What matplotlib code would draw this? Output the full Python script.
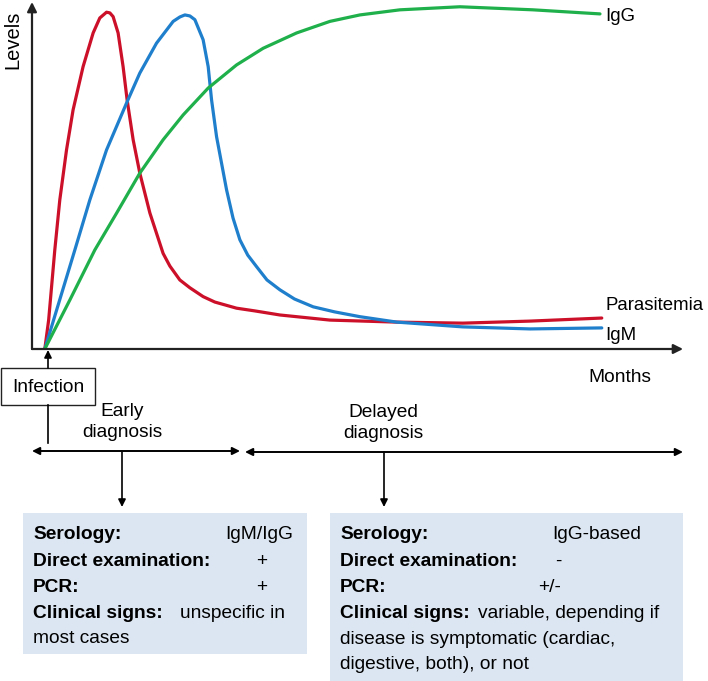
import matplotlib
matplotlib.use("Agg")
from matplotlib import pyplot as plt
from matplotlib.patches import Rectangle

plt.rcParams['font.family'] = ['Liberation Sans', 'DejaVu Sans']

# curve values (x in months-ish units, y in level %)
red_x = [0, 0.06, 0.156, 0.234, 0.339, 0.442, 0.598, 0.755, 0.859, 0.964, 1.016, 1.067, 1.145,
         1.223, 1.286, 1.38, 1.484, 1.641, 1.848, 1.953, 2.109, 2.266, 2.473, 2.656, 2.995,
         3.28, 3.672, 4.453, 5.5, 6.53, 7.58, 8.7]
red_y = [0, 8.5, 29.1, 43.8, 58.5, 70.3, 83.0, 92.9, 97.3, 99.0, 98.8, 97.7, 92.9,
         83.0, 73.2, 61.5, 51.7, 40.0, 28.1, 24.4, 20.3, 18.0, 15.4, 13.8, 12.0,
         11.2, 10.0, 8.5, 7.9, 7.6, 8.2, 9.1]

blue_x = [0, 0.469, 0.703, 0.964, 1.277, 1.484, 1.745, 2.005, 2.11, 2.188, 2.266, 2.344, 2.473,
          2.552, 2.605, 2.683, 2.839, 2.94, 3.047, 3.17, 3.308, 3.47, 3.672, 3.9, 4.192, 4.53,
          4.922, 5.5, 6.53, 7.58, 8.7]
blue_y = [0, 29.1, 43.8, 58.5, 72.3, 81.1, 89.9, 96.3, 97.6, 98.2, 97.9, 96.8, 90.9,
          83.0, 73.2, 62.4, 46.8, 38.5, 32.1, 27.6, 24.2, 20.3, 17.4, 14.7, 12.4, 10.9,
          9.5, 7.9, 6.5, 5.9, 6.2]

green_x = [0, 0.391, 0.781, 1.12, 1.484, 1.848, 2.161, 2.552, 2.995, 3.411, 3.933, 4.453,
           4.922, 5.547, 6.484, 7.625, 8.672]
green_y = [0, 14.4, 29.1, 39.9, 51.7, 61.5, 68.8, 76.7, 83.5, 88.4, 92.9, 96.3,
           98.2, 99.7, 100.6, 99.7, 98.5]

series = [("Parasitemia", red_x, red_y, "#cc1029", 12.9),
          ("IgM", blue_x, blue_y, "#1f7fcc", 4.1),
          ("IgG", green_x, green_y, "#1fb04b", 97.6)]

early_rows = [("Serology:", "IgM/IgG"), ("Direct examination:", "+"), ("PCR:", "+")]
late_rows = [("Serology:", "IgG-based"), ("Direct examination:", "-"), ("PCR:", "+/-")]

FS = 13.8
BOXC = "#dce6f2"

fig = plt.figure(figsize=(7.08, 6.81), dpi=100)

# overlay in pixel coordinates for the diagram parts
ov = fig.add_axes([0, 0, 1, 1])
ov.set_xlim(0, 708)
ov.set_ylim(681, 0)
ov.axis("off")

# the chart itself
ax = fig.add_axes([32 / 708, (681 - 349) / 681, 653 / 708, 347 / 681])
ax.set_xlim(-0.2, 10)
ax.set_ylim(0, 102)
ax.axis("off")
for name, xs, ys, col, ly in series:
    ax.plot(xs, ys, color=col, lw=2.3, solid_capstyle="round", solid_joinstyle="round")
    ax.text(8.76, ly, name, fontsize=13.4, va="center", ha="left")

arr = dict(arrowstyle="-|>", color="#222222", lw=1.6, mutation_scale=14, shrinkA=0, shrinkB=0)
ax.annotate("", xy=(0.997, 0), xytext=(0, 0), xycoords="axes fraction", arrowprops=arr)
ax.annotate("", xy=(0, 1), xytext=(0, 0), xycoords="axes fraction", arrowprops=arr)

ov.text(13, 40, "Levels", rotation=90, fontsize=14.5, ha="center", va="center")
ov.text(620, 378, "Months", fontsize=FS, ha="center", va="center")

# infection marker
ov.add_patch(Rectangle((1, 368), 94, 37, facecolor="white", edgecolor="#222222", lw=1))
ov.text(48, 387, "Infection", fontsize=FS, ha="center", va="center")
small = dict(arrowstyle="-|>", color="black", lw=1.2, mutation_scale=11, shrinkA=0, shrinkB=0)
ov.annotate("", xy=(48, 350), xytext=(48, 368), arrowprops=small)
ov.plot([48, 48], [405, 443], color="black", lw=1.2)

# time windows
both = dict(arrowstyle="<|-|>", color="black", lw=1.4, mutation_scale=11, shrinkA=0, shrinkB=0)
ov.annotate("", xy=(240, 451), xytext=(32, 451), arrowprops=both)
ov.annotate("", xy=(683, 452), xytext=(245, 452), arrowprops=both)
ov.text(122, 422, "Early\ndiagnosis", fontsize=FS, ha="center", va="center", linespacing=1.25)
ov.text(383, 423, "Delayed\ndiagnosis", fontsize=FS, ha="center", va="center", linespacing=1.25)
ov.annotate("", xy=(122, 507), xytext=(122, 452), arrowprops=small)
ov.annotate("", xy=(384, 507), xytext=(384, 452), arrowprops=small)

# info boxes
ov.add_patch(Rectangle((23, 513), 284, 141, facecolor=BOXC, edgecolor="none"))
ov.add_patch(Rectangle((330, 513), 353, 168, facecolor=BOXC, edgecolor="none"))

base = [539, 566, 592, 618, 644, 669]
early_val_x = [293, 262, 262]
early_val_ha = ["right", "center", "center"]
for i, (lab, val) in enumerate(early_rows):
    ov.text(33, base[i], lab, fontsize=FS, fontweight="bold", va="baseline")
    ov.text(early_val_x[i], base[i], val, fontsize=FS, va="baseline", ha=early_val_ha[i])
ov.text(33, base[3], "Clinical signs:", fontsize=FS, fontweight="bold", va="baseline")
ov.text(180, base[3], "unspecific in", fontsize=FS, va="baseline")
ov.text(33, base[4] - 1, "most cases", fontsize=FS, va="baseline")

late_val_x = [552, 555, 538]
for i, (lab, val) in enumerate(late_rows):
    ov.text(340, base[i], lab, fontsize=FS, fontweight="bold", va="baseline")
    ov.text(late_val_x[i], base[i], val, fontsize=FS, va="baseline")
ov.text(340, base[3], "Clinical signs:", fontsize=FS, fontweight="bold", va="baseline")
ov.text(478, base[3], "variable, depending if", fontsize=FS, va="baseline")
ov.text(340, base[4], "disease is symptomatic (cardiac,", fontsize=FS, va="baseline")
ov.text(340, base[5], "digestive, both), or not", fontsize=FS, va="baseline")

fig.savefig("out.png", dpi=100)
